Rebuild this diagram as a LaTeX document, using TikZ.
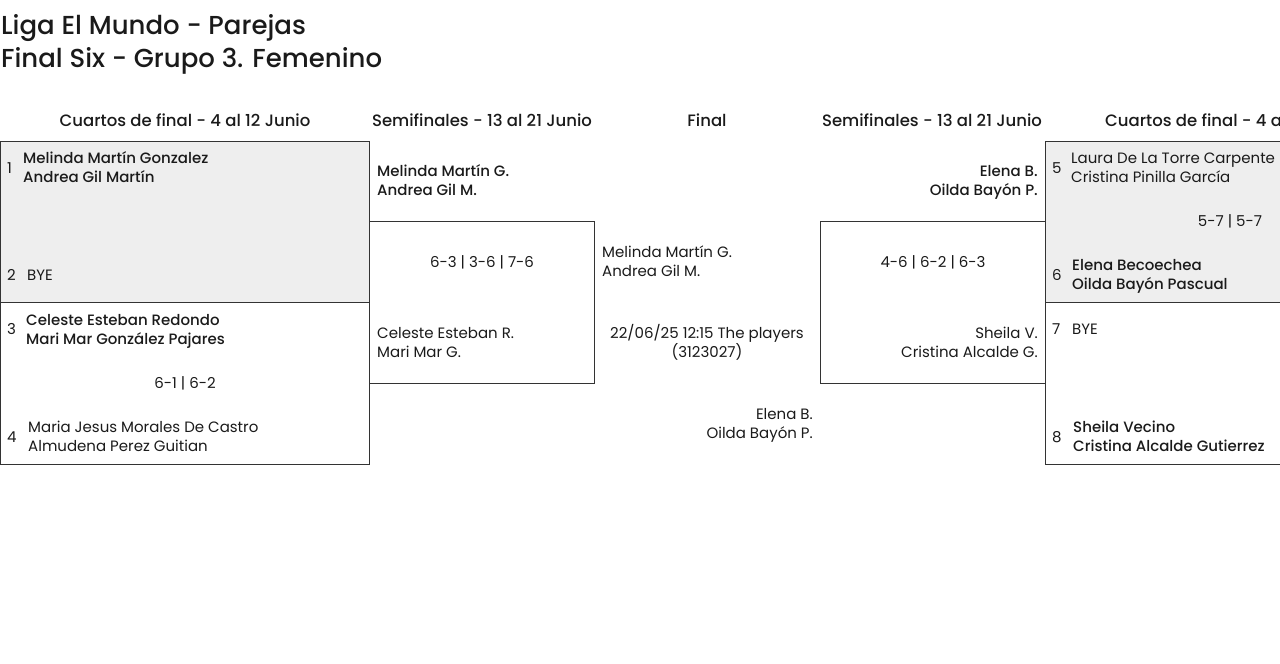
\documentclass[tikz,border=0pt]{standalone}
\usepackage{fontspec}
\setmainfont{Poppins}[BoldFont={Poppins Medium}]
\definecolor{ink}{HTML}{1A1A1A}
\definecolor{edge}{HTML}{333333}
\definecolor{boxgrey}{HTML}{EEEEEE}
\tikzset{
  body/.style={inner sep=0pt, text=ink, font=\fontsize{15}{18}\selectfont},
  nmw/.style={body, anchor=base west},
  nme/.style={body, anchor=base east},
  nmc/.style={body, anchor=base},
  bw/.style={nmw, font=\fontsize{15}{18}\selectfont\bfseries},
  be/.style={nme, font=\fontsize{15}{18}\selectfont\bfseries},
  head/.style={inner sep=0pt, text=ink, anchor=base, font=\fontsize{16.5}{20}\selectfont\bfseries},
  ttl/.style={inner sep=0pt, text=ink, anchor=base west, font=\fontsize{26}{30}\selectfont\bfseries},
  frame/.style={draw=edge, line width=0.8pt},
  greybox/.style={fill=boxgrey},
}
\begin{document}
\begin{tikzpicture}[x=1pt,y=-1pt]
\useasboundingbox (0,0) rectangle (1280,664);
\clip (0,0) rectangle (1280,664);
% boxes
\path[greybox] (0.5,141.5) rectangle (369.5,302.5);
\path[greybox] (1045.5,141.5) rectangle (1281,302.5);
\draw[frame] (0.5,141.5) rectangle (369.5,302.5);
\draw[frame] (0.5,302.5) rectangle (369.5,464.5);
\draw[frame] (369.5,221.5) rectangle (594.5,383.5);
\draw[frame] (820.5,221.5) rectangle (1045.5,383.5);
\draw[frame] (1045.5,141.5) rectangle (1290,302.5);
\draw[frame] (1045.5,302.5) rectangle (1290,464.5);
% titles
\node[ttl] (t1) at (1,34) {Liga El Mundo - Parejas};
\node[ttl] (t2) at (1,67) {Final Six - Grupo 3. Femenino};
% headers
\node[head] (h1) at (185,126) {Cuartos de final - 4 al 12 Junio};
\node[head] (h2) at (482,126) {Semifinales - 13 al 21 Junio};
\node[head] (h3) at (707,126) {Final};
\node[head] (h4) at (932,126) {Semifinales - 13 al 21 Junio};
\node[head, anchor=base west] (h5) at (1105,126) {Cuartos de final - 4 a};
% left QF top
\node[nmw] (s1) at (7,173) {1};
\node[bw] (p1a) at (23,163) {Melinda Martín Gonzalez};
\node[bw] (p1b) at (23,182) {Andrea Gil Martín};
\node[nmw] (s2) at (7,280) {2};
\node[nmw] (p2) at (27,280) {BYE};
% left QF bottom
\node[nmw] (s3) at (7,334) {3};
\node[bw] (p3a) at (26,325) {Celeste Esteban Redondo};
\node[bw] (p3b) at (26,344) {Mari Mar González Pajares};
\node[nmc] (r1) at (185,388) {6-1 | 6-2};
\node[nmw] (s4) at (7,442) {4};
\node[nmw] (p4a) at (28,432) {Maria Jesus Morales De Castro};
\node[nmw] (p4b) at (28,451) {Almudena Perez Guitian};
% left SF
\node[bw] (q1a) at (377,176) {Melinda Martín G.};
\node[bw] (q1b) at (377,195) {Andrea Gil M.};
\node[nmc] (r2) at (482,267) {6-3 | 3-6 | 7-6};
\node[nmw] (q2a) at (377,338) {Celeste Esteban R.};
\node[nmw] (q2b) at (377,357) {Mari Mar G.};
% final
\node[nmw] (f1a) at (602,257) {Melinda Martín G.};
\node[nmw] (f1b) at (602,276) {Andrea Gil M.};
\node[nmc] (fm1) at (707,338) {22/06/25 12:15 The players};
\node[nmc] (fm2) at (707,357) {(3123027)};
\node[nme] (f2a) at (813,419) {Elena B.};
\node[nme] (f2b) at (813,438) {Oilda Bayón P.};
% right SF
\node[be] (q3a) at (1038,176) {Elena B.};
\node[be] (q3b) at (1038,195) {Oilda Bayón P.};
\node[nmc] (r3) at (933,267) {4-6 | 6-2 | 6-3};
\node[nme] (q4a) at (1038,338) {Sheila V.};
\node[nme] (q4b) at (1038,357) {Cristina Alcalde G.};
% right QF top
\node[nmw] (s5) at (1052,173) {5};
\node[nmw] (p5a) at (1071,163) {Laura De La Torre Carpente};
\node[nmw] (p5b) at (1071,182) {Cristina Pinilla García};
\node[nmc] (r4) at (1230,226) {5-7 | 5-7};
\node[nmw] (s6) at (1052,280) {6};
\node[bw] (p6a) at (1072,270) {Elena Becoechea};
\node[bw] (p6b) at (1072,289) {Oilda Bayón Pascual};
% right QF bottom
\node[nmw] (s7) at (1052,334) {7};
\node[nmw] (p7) at (1072,334) {BYE};
\node[nmw] (s8) at (1052,442) {8};
\node[bw] (p8a) at (1073,432) {Sheila Vecino};
\node[bw] (p8b) at (1073,451) {Cristina Alcalde Gutierrez};
\end{tikzpicture}
\end{document}
